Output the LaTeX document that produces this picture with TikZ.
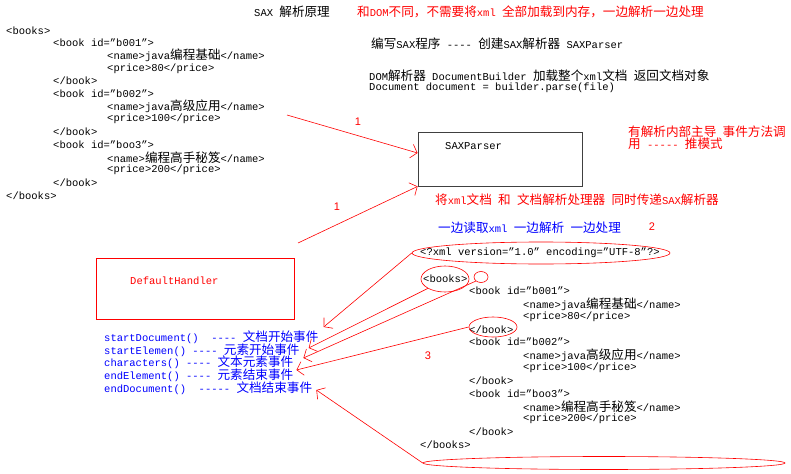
\documentclass[tikz,border=0pt]{standalone}
\usepackage{fontspec}
\setmonofont{Liberation Mono}
\newfontfamily\cjk[Scale=1.2]{Noto Sans CJK SC}
\newfontfamily\numfont{Liberation Sans}
\newcommand{\zh}[1]{{\cjk #1}}
\usetikzlibrary{arrows.meta,shapes.geometric}
\definecolor{sred}{RGB}{255,0,0}
\definecolor{sblue}{RGB}{0,0,255}
\tikzset{
    txt/.style={anchor=west, inner sep=0pt, font=\ttfamily\fontsize{10.5}{12.4}\selectfont},
    redtxt/.style={txt, text=sred},
    bluetxt/.style={txt, text=sblue},
    numtxt/.style={inner sep=0pt, text=sred, font=\numfont\fontsize{11}{12}\selectfont},
    hoop/.style={draw=sred, ellipse, inner sep=0pt, line width=0.6pt},
    flow/.style={draw=sred, line width=0.6pt, -{Straight Barb[length=6pt,width=14pt]}}
}
\begin{document}
\begin{tikzpicture}[x=1pt,y=-1pt]
        \useasboundingbox (0,0) rectangle (791,473);
        % headings
            \node[txt] (title) at (254,12) {SAX \zh{解析原理}};
            \node[redtxt] (note) at (357,12) {\zh{和}DOM\zh{不同，不需要将}xml \zh{全部加载到内存，一边解析一边处理}};
            \node[txt] (step) at (371,44) {\zh{编写}SAX\zh{程序} ---- \zh{创建}SAX\zh{解析器} SAXParser};
            \node[txt] (domline) at (369,76) {DOM\zh{解析器} DocumentBuilder \zh{加载整个}xml\zh{文档} \zh{返回文档对象}};
            \node[txt] (domcode) at (369,88) {Document document = builder.parse(file)};
        % xml documents
            \node[txt] (lbooks) at (6,31) {<books>};
            \foreach \i/\x/\xml in {0/53/{<book id=”b001”>},1/107/{<name>java\zh{编程基础}</name>},2/107/{<price>80</price>},
                                    3/53/{</book>},4/53/{<book id=”b002”>},5/107/{<name>java\zh{高级应用}</name>},6/107/{<price>100</price>},
                                    7/53/{</book>},8/53/{<book id=”boo3”>},9/107/{<name>\zh{编程高手秘笈}</name>},10/107/{<price>200</price>},
                                    11/53/{</book>}}{
                \node[txt] (l\i) at (\x,{43+12.7*\i}) {\xml};
                \node[txt] (r\i) at ({\x+416},{291+12.8*\i}) {\xml};
            }
            \node[txt] (lbooksend) at (6,196) {</books>};
            \node[txt] (decltext) at (420,253) {<?xml version=”1.0” encoding=”UTF-8”?>};
            \node[txt] (rbooks) at (423,279) {<books>};
            \node[txt] (rbooksend) at (420,445) {</books>};
        % marks
            \node[hoop, minimum width=258pt, minimum height=22pt] (xmldecl) at (541,253) {};
            \node[hoop, minimum width=48pt, minimum height=26pt] (booksopen) at (445,279) {};
            \node[hoop, minimum width=14pt, minimum height=11pt] (smallring) at (481,277) {};
            \node[hoop, minimum width=48pt, minimum height=20pt] (bookclose) at (493,327) {};
            \node[hoop, minimum width=362pt, minimum height=13pt] (booksend) at (604,463) {};
        % parser
            \node[draw=black!75, line width=0.8pt, minimum width=164pt, minimum height=54pt, inner sep=0pt] (saxparser) at (500,159) {};
            \node[txt] (saxlabel) at (445,146) {SAXParser};
            \node[redtxt, align=left] (pushnote) at (628,138) {\zh{有解析内部主导} \zh{事件方法调}\\\zh{用} ----- \zh{推模式}};
            \node[redtxt] (handoff) at (435,200) {\zh{将}xml\zh{文档} \zh{和} \zh{文档解析处理器} \zh{同时传递}SAX\zh{解析器}};
            \node[bluetxt] (stream) at (438,228) {\zh{一边读取}xml \zh{一边解析} \zh{一边处理}};
        % handler
            \node[draw=sred, line width=0.8pt, minimum width=198pt, minimum height=61pt, inner sep=0pt] (handler) at (195,288.5) {};
            \node[redtxt] (handlerlabel) at (130,281) {DefaultHandler};
            \foreach \n/\y/\m in {startdoc/337/{startDocument()\ \ ---- \zh{文档开始事件}},startel/350/{startElemen() ---- \zh{元素开始事件}},
                                  chars/362/{characters() ---- \zh{文本元素事件}},endel/375/{endElement() ---- \zh{元素结束事件}},
                                  enddoc/388/{endDocument()\ \ ----- \zh{文档结束事件}}}{
                \node[bluetxt] (\n) at (104,\y) {\m};
            }
        % arrows
            \coordinate (docref) at (287,115);
            \coordinate (handlerref) at (298,243);
            \draw[flow] (docref) -- ([yshift=6pt]saxparser.west);
            \draw[flow] (handlerref) -- (saxparser.south west);
            \draw[flow] (xmldecl.west) -- ([shift={(5pt,10pt)}]startdoc.east);
            \draw[flow] (booksopen.south west) -- ([shift={(9pt,2pt)}]startel.east);
            \draw[flow] (smallring.south west) -- ([shift={(10pt,4pt)}]chars.east);
            \draw[flow] (bookclose.west) -- ([shift={(3pt,5pt)}]endel.east);
            \draw[flow] (booksend.west) -- ([shift={(4pt,-2pt)}]enddoc.east);
        % labels
            \node[numtxt] (one) at (358,122) {1};
            \node[numtxt] (onebis) at (337,207) {1};
            \node[numtxt] (two) at (652,227) {2};
            \node[numtxt] (three) at (428,356) {3};
        \end{tikzpicture}
\end{document}
